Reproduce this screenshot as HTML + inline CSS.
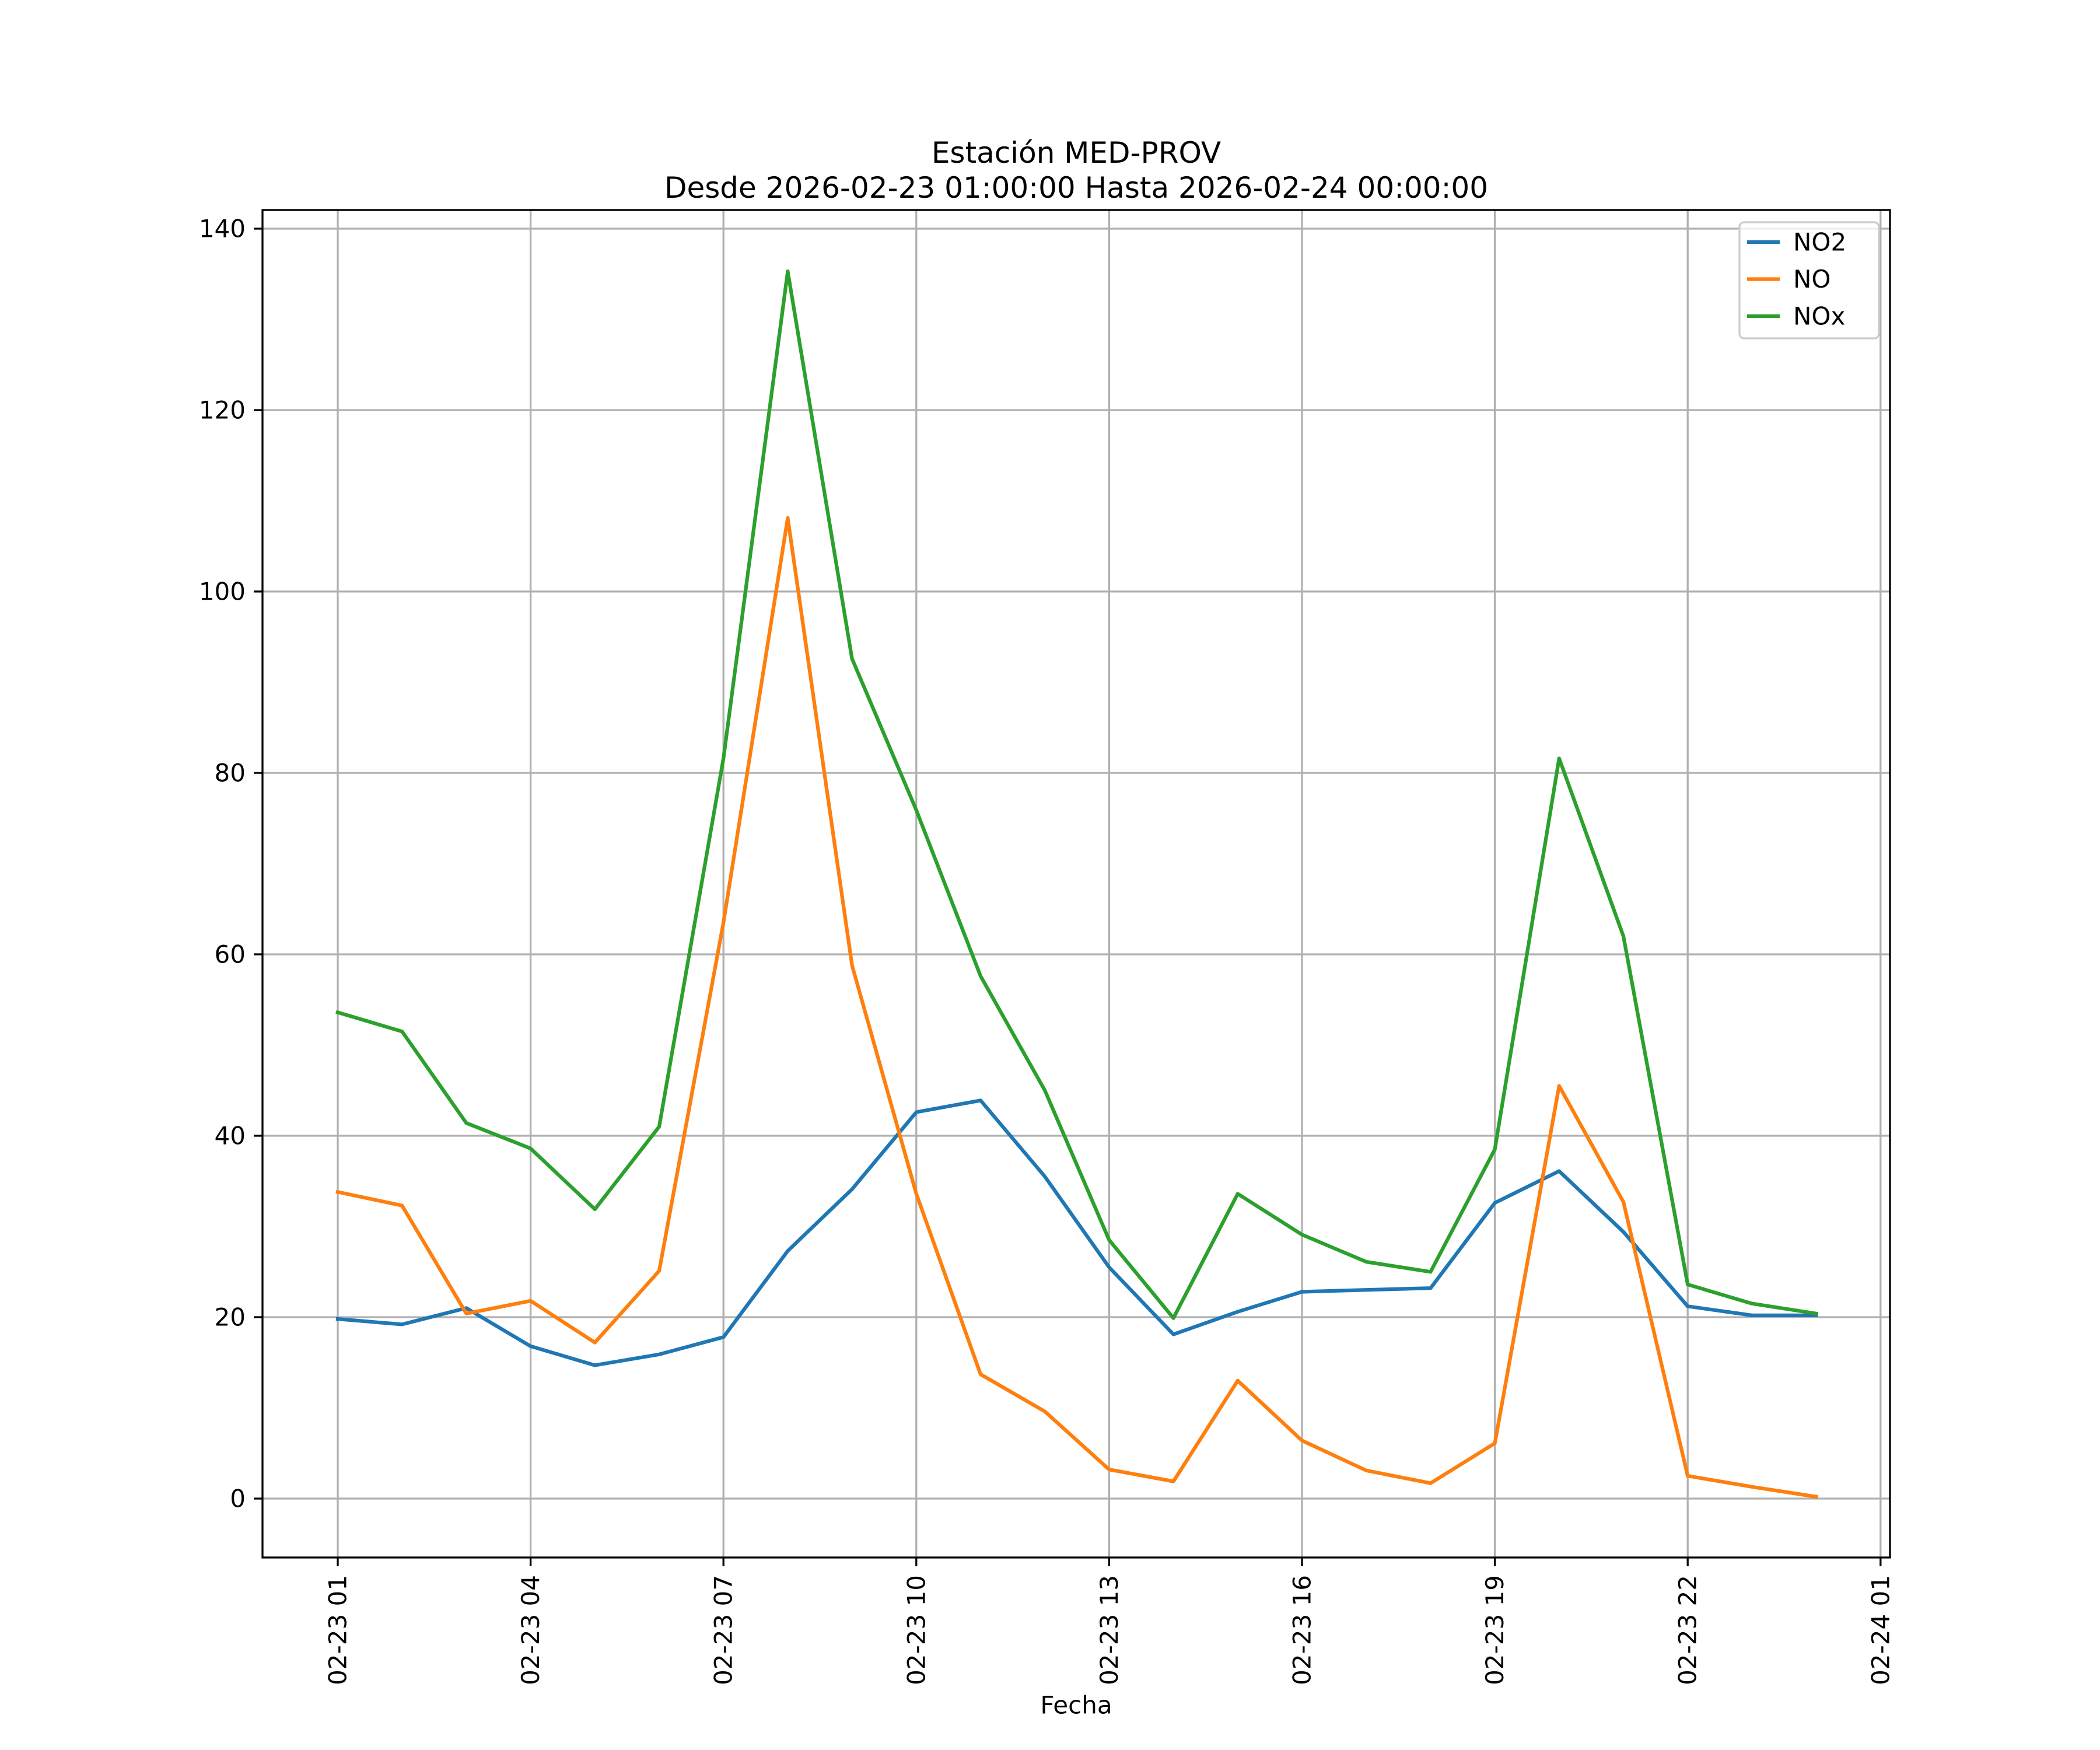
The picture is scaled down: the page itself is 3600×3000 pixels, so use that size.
<!DOCTYPE html>
<html><head><meta charset="utf-8"><style>
html,body{margin:0;padding:0;background:#fff;}
svg{display:block;font-family:"DejaVu Sans","Liberation Sans",sans-serif;}
</style></head><body>
<svg id="chart" width="3600" height="3000" viewBox="0 0 3600 3000">
<rect x="0" y="0" width="3600" height="3000" fill="#fff"/>
<g id="grid"></g>
<g id="series"></g>
<rect x="450" y="360" width="2790" height="2310" fill="none" stroke="#000" stroke-width="3.3"/>
<g id="ticks"></g>
<text x="1845" y="262" text-anchor="middle" dominant-baseline="central" font-size="50">Estación MED-PROV</text>
<text x="1845" y="322" text-anchor="middle" dominant-baseline="central" font-size="50">Desde 2026-02-23 01:00:00 Hasta 2026-02-24 00:00:00</text>
<text x="1845" y="2923" text-anchor="middle" dominant-baseline="central" font-size="42">Fecha</text>
<g id="legend"></g>
</svg>
<script>
const hours = [1,2,3,4,5,6,7,8,9,10,11,12,13,14,15,16,17,18,19,20,21,22,23,24];
const no2 = [19.8,19.2,21.0,16.8,14.7,15.9,17.8,27.3,34.1,42.6,43.9,35.5,25.5,18.1,20.6,22.8,23.0,23.2,32.6,36.1,29.4,21.2,20.2,20.2];
const no = [33.8,32.3,20.4,21.8,17.2,25.1,63.5,108.1,58.8,33.6,13.7,9.6,3.2,1.9,13.0,6.4,3.1,1.7,6.1,45.5,32.7,2.5,1.3,0.2];
const nox = [53.6,51.5,41.4,38.6,31.9,41.0,81.6,135.3,92.6,75.9,57.6,45.0,28.5,19.9,33.6,29.1,26.1,25.0,38.5,81.6,62.0,23.6,21.5,20.4];
const yTicks = [0,20,40,60,80,100,120,140];
const xTickHours = [1,4,7,10,13,16,19,22,25];
const xTickLabels = ["02-23 01","02-23 04","02-23 07","02-23 10","02-23 13","02-23 16","02-23 19","02-23 22","02-24 01"];
const seriesNames = ["NO2","NO","NOx"];
const seriesColors = ["#1f77b4","#ff7f0e","#2ca02c"];

const NS="http://www.w3.org/2000/svg";
const xs = h => 579 + 110.2*(h-1);
const ys = v => 2569 - 15.55*v;
function mk(tag, attrs, parent){const e=document.createElementNS(NS,tag);for(const k in attrs)e.setAttribute(k,attrs[k]);parent.appendChild(e);return e;}
const grid=document.getElementById('grid'), ticks=document.getElementById('ticks'), series=document.getElementById('series'), legend=document.getElementById('legend');

yTicks.forEach(v=>{
  const y=ys(v);
  const g=mk('line',{x1:450,x2:3240,y1:y,y2:y,stroke:'#b0b0b0','stroke-width':3.3},grid);
  
  
  const t=mk('line',{x1:435,x2:450,y1:y,y2:y,stroke:'#000','stroke-width':3.3},ticks);
  
  
  const l=mk('text',{x:421,y:y,'text-anchor':'end','dominant-baseline':'central','font-size':42},ticks);
  l.textContent=String(v);
  
  
});
xTickHours.forEach((h,i)=>{
  const x=xs(h);
  const g=mk('line',{x1:x,x2:x,y1:360,y2:2670,stroke:'#b0b0b0','stroke-width':3.3},grid);
  
  
  const t=mk('line',{x1:x,x2:x,y1:2670,y2:2685,stroke:'#000','stroke-width':3.3},ticks);
  
  
  const l=mk('text',{x:0,y:0,'text-anchor':'end','dominant-baseline':'central','font-size':42,transform:`translate(${x},2700) rotate(-90)`},ticks);
  l.textContent=xTickLabels[i];
  
  
});
[no2,no,nox].forEach((arr,si)=>{
  const pts=arr.map((v,i)=>xs(hours[i]).toFixed(1)+','+ys(v).toFixed(1)).join(' ');
  const p=mk('polyline',{points:pts,fill:'none',stroke:seriesColors[si],'stroke-width':6.25,'stroke-linejoin':'round','stroke-linecap':'square'},series);
  
  
});
const box=mk('rect',{x:2982,y:381,width:239,height:199,rx:8,fill:'#fff','fill-opacity':0.8,stroke:'#cccccc','stroke-width':3.3},legend);


seriesNames.forEach((n,i)=>{
  const y=415+i*63.5;
  const ln=mk('line',{x1:2995,x2:3051,y1:y,y2:y,stroke:seriesColors[i],'stroke-width':6.25},legend);
  
  
  const tx=mk('text',{x:3074,y:y,'dominant-baseline':'central','font-size':42},legend);
  tx.textContent=n;
  
  
});
</script>
</body></html>
